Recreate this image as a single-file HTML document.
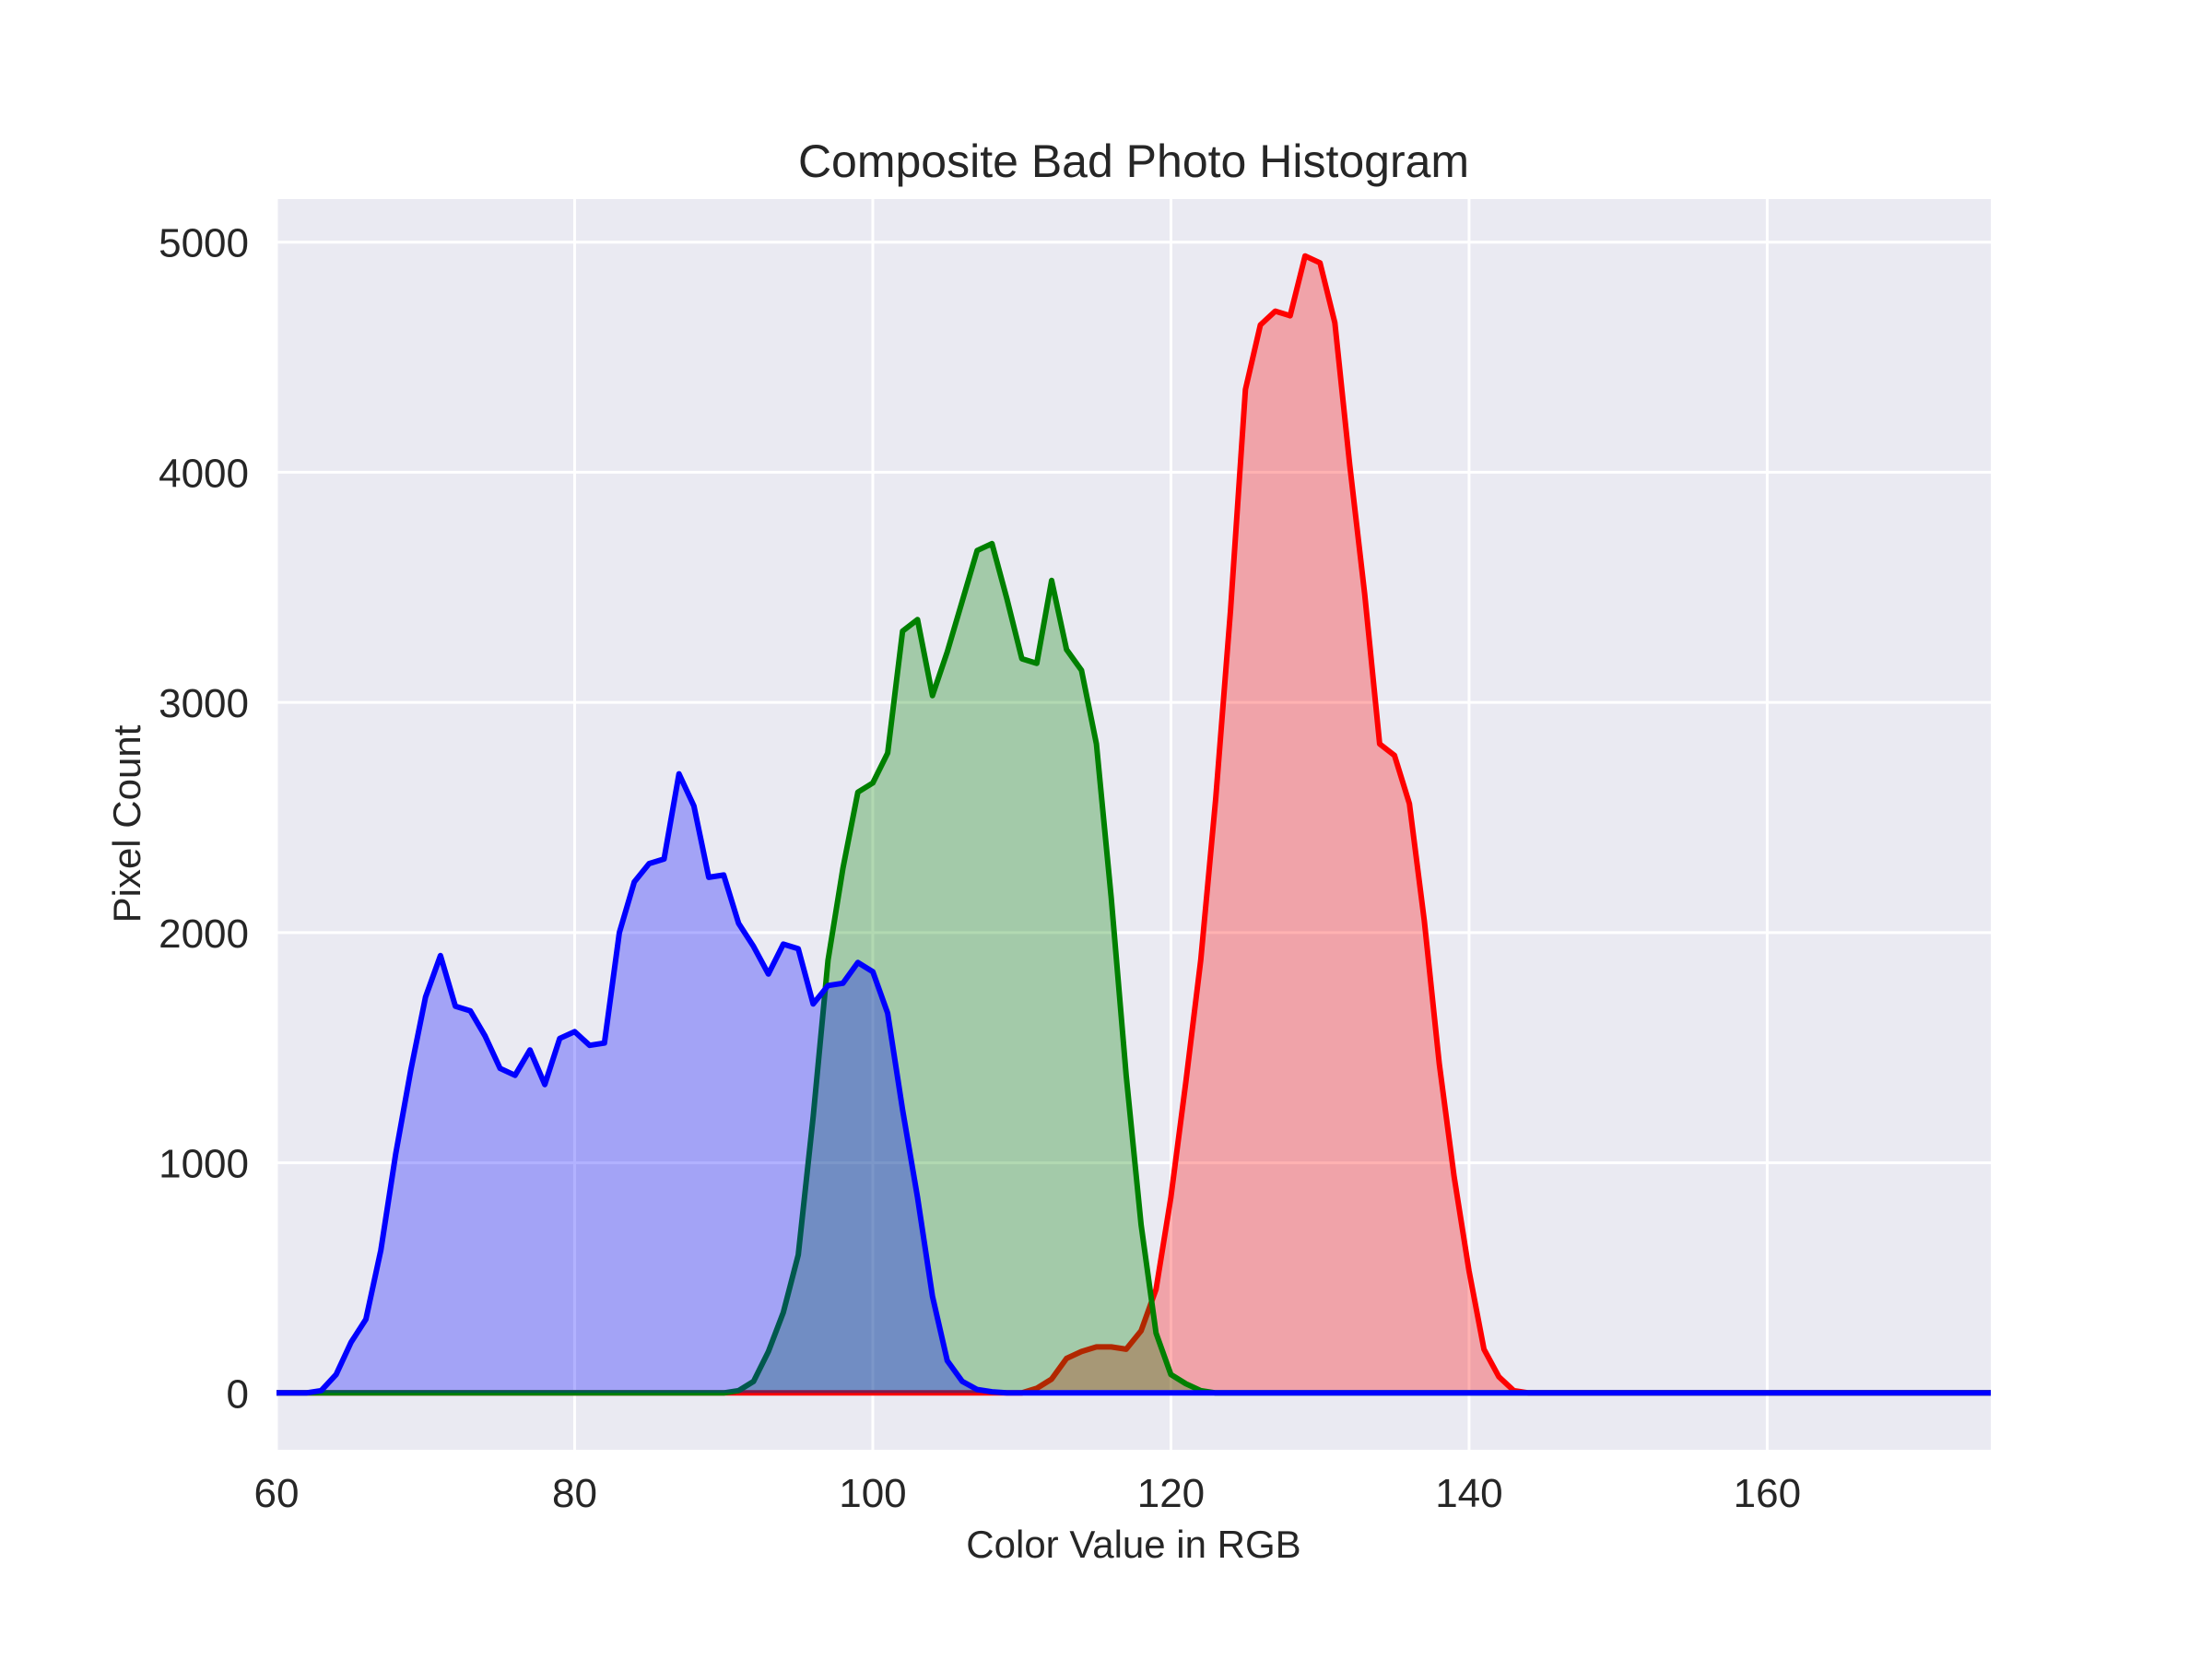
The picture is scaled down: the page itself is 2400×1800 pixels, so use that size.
<!DOCTYPE html>
<html><head><meta charset="utf-8"><style>
html,body{margin:0;padding:0;background:#fff;}
svg{display:block;font-family:"Liberation Sans",Arial,sans-serif;}
</style></head><body>
<svg id="chart" width="2400" height="1800" viewBox="0 0 2400 1800">
<rect x="0" y="0" width="2400" height="1800" fill="#fff"/>
<rect x="300" y="216" width="1860" height="1357" fill="#EAEAF2"/>
<g id="grid"></g>
<g id="series"></g>
<g id="ticks"></g>
<text x="1230" y="192" font-size="50" text-anchor="middle" fill="#262626">Composite Bad Photo Histogram</text>
<text x="1230" y="1690" font-size="42" text-anchor="middle" fill="#262626">Color Value in RGB</text>
<text x="0" y="0" font-size="42" text-anchor="middle" fill="#262626" transform="translate(152,894) rotate(-90)">Pixel Count</text>
</svg>
<script>
const xStart = 60;
const blueVals = [0,0,0,10,80,220,320,620,1040,1400,1720,1900,1680,1660,1550,1410,1380,1490,1340,1540,1570,1510,1520,2000,2220,2300,2320,2690,2550,2240,2250,2040,1940,1820,1950,1930,1690,1770,1780,1870,1830,1650,1230,850,420,140,50,15,5,0];
const greenVals = [0,0,0,0,0,0,0,0,0,0,0,0,0,0,0,0,0,0,0,0,0,0,0,0,0,0,0,0,0,0,0,10,50,180,350,600,1200,1880,2280,2610,2650,2780,3310,3360,3030,3220,3440,3660,3690,3450,3190,3170,3530,3230,3140,2820,2150,1380,730,260,80,40,10,0];
const redVals = [0,0,0,0,0,0,0,0,0,0,0,0,0,0,0,0,0,0,0,0,0,0,0,0,0,0,0,0,0,0,0,0,0,0,0,0,0,0,0,0,0,0,0,0,0,0,0,0,0,0,0,20,60,150,180,200,200,190,270,450,850,1350,1880,2580,3400,4360,4640,4700,4680,4940,4910,4650,4030,3470,2820,2770,2560,2050,1430,940,530,190,70,10,0];
const xEnd = 175;
const xTicks = [60,80,100,120,140,160];
const yTicks = [0,1000,2000,3000,4000,5000];

const NS = "http://www.w3.org/2000/svg";
const L=300,R=2160,T=216,B=1573;
const xMin=60,xMax=175,yMin=-247,yMax=5187;
function sx(v){return L+(v-xMin)/(xMax-xMin)*(R-L);}
function sy(v){return B-(v-yMin)/(yMax-yMin)*(B-T);}
function mk(tag,attrs,parent){const e=document.createElementNS(NS,tag);for(const k in attrs)e.setAttribute(k,attrs[k]);parent.appendChild(e);return e;}

const grid=document.getElementById('grid');
xTicks.forEach(t=>{
  const l=mk('line',{x1:sx(t),x2:sx(t),y1:T,y2:B,stroke:'#fff','stroke-width':3},grid);
  
  
});
yTicks.forEach(t=>{
  const l=mk('line',{x1:L,x2:R,y1:sy(t),y2:sy(t),stroke:'#fff','stroke-width':3},grid);
  
  
});

const ticks=document.getElementById('ticks');
xTicks.forEach(t=>{
  const e=mk('text',{x:sx(t),y:1635,'font-size':44,'text-anchor':'middle',fill:'#262626'},ticks);
  e.textContent=t;
  
  
});
yTicks.forEach(t=>{
  const e=mk('text',{x:270,y:sy(t)+16,'font-size':44,'text-anchor':'end',fill:'#262626'},ticks);
  e.textContent=t;
  
  
});

const series=document.getElementById('series');
function draw(vals,color,name){
  const pts=[];
  for(let i=0;i<vals.length;i++)pts.push([xStart+i,vals[i]]);
  const last=xStart+vals.length-1;
  if(last<xEnd)pts.push([xEnd,0]);
  const line=pts.map(p=>sx(p[0]).toFixed(1)+','+sy(p[1]).toFixed(1)).join(' ');
  const area='M'+sx(pts[0][0])+','+sy(0)+' L'+line.split(' ').join(' L')+' L'+sx(pts[pts.length-1][0])+','+sy(0)+' Z';
  const f=mk('path',{d:area,fill:color,'fill-opacity':0.3,stroke:'none'},series);
  
  
  const p=mk('polyline',{points:line,fill:'none',stroke:color,'stroke-width':6,'stroke-linejoin':'round'},series);
  
  
}
draw(redVals,'#ff0000','red-channel');
draw(greenVals,'#008000','green-channel');
draw(blueVals,'#0000ff','blue-channel');
</script>
</body></html>
